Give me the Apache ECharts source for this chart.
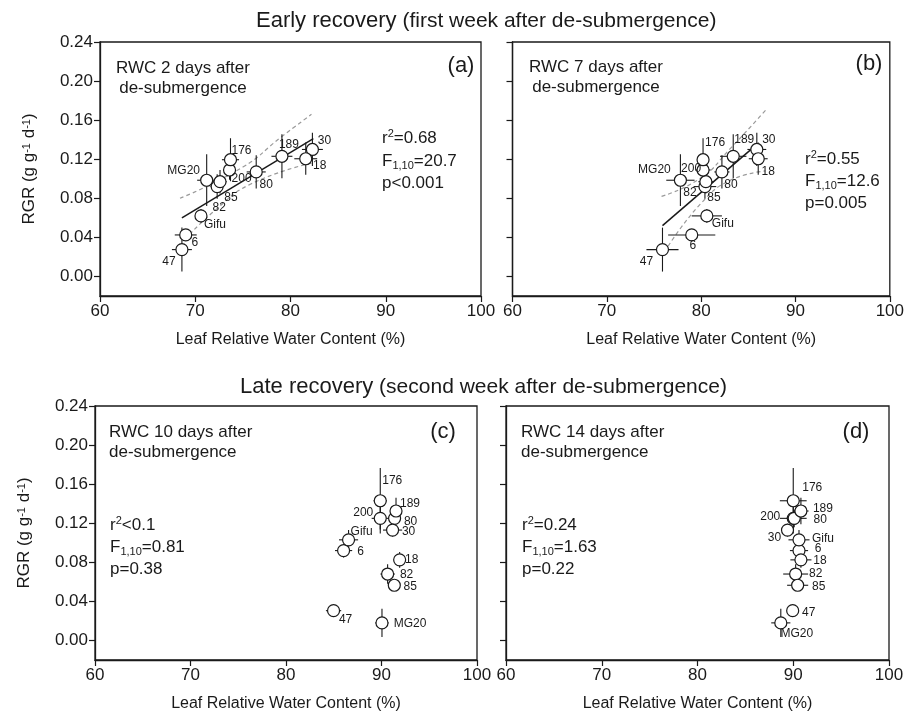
<!DOCTYPE html>
<html><head><meta charset="utf-8">
<script src="https://cdn.jsdelivr.net/npm/echarts@6/dist/echarts.min.js"></script>
<style>html,body{margin:0;padding:0;background:#fff}#c{width:907px;height:716px}</style>
</head><body><div id="c"></div>
<script>
// ---------------- DATA ----------------
const genotypes = ['47','6','Gifu','82','85','MG20','200','176','80','189','30','18'];
const yTicks = [0, 0.04, 0.08, 0.12, 0.16, 0.20, 0.24];
const xTicks = [60, 70, 80, 90, 100];

// RGR (same growth rates plotted against each RWC sampling day)
const rgrEarly    = [0.0275, 0.0425, 0.062, 0.092, 0.097, 0.0985, 0.109, 0.1195, 0.107, 0.123, 0.130, 0.1205];
const rgrEarlyErr = [0.0225, 0.006, 0.007, 0.0125, 0.012, 0.0265, 0.010, 0.022, 0.017, 0.0225, 0.017, 0.0165];
const rgrLate     = [0.0305, 0.092, 0.103, 0.068, 0.0565, 0.018, 0.125, 0.143, 0.125, 0.1325, 0.113, 0.0825];
const rgrLateErr  = [0.0055, 0.007, 0.010, 0.010, 0.0045, 0.0145, 0.0115, 0.0335, 0.009, 0.0135, 0.0065, 0.008];

// (a) RWC 2 days after de-submergence
const rwcA  = [68.6, 69.0, 70.6, 72.3, 72.6, 71.2, 73.6, 73.7, 76.4, 79.1, 82.3, 81.6];
const xErrA = [1.05, 1.15, 0.6, 0.7, 0.7, 1.0, 0.5, 0.9, 1.0, 1.1, 1.1, 1.2];
const fitA   = [[68.6, 0.060], [82.4, 0.141]];
const upperA = [[68.4, 0.080], [75.0, 0.112], [79.0, 0.1425], [82.2, 0.166]];
const lowerA = [[68.9, 0.038], [72.0, 0.067], [75.7, 0.094], [82.2, 0.116]];

// (b) RWC 7 days after de-submergence
const rwcB  = [75.9, 79.0, 80.6, 80.4, 80.5, 77.8, 80.2, 80.2, 82.2, 83.4, 85.9, 86.05];
const xErrB = [1.7, 2.5, 1.6, 1.2, 0.8, 1.5, 0.8, 0.5, 0.8, 1.4, 1.0, 1.0];
const fitB   = [[75.9, 0.052], [86.0, 0.136]];
const upperB = [[75.8, 0.082], [80.0, 0.101], [83.0, 0.130], [87.0, 0.172]];
const lowerB = [[76.5, 0.031], [80.0, 0.075], [83.0, 0.098], [86.8, 0.108]];

// (c) RWC 10 days after de-submergence
const rwcC  = [84.98, 86.03, 86.55, 90.64, 91.34, 90.05, 89.87, 89.87, 91.37, 91.52, 91.16, 91.9];
const xErrC = [0.8, 0.9, 1.0, 0.75, 0.5, 0.7, 0.9, 0.7, 0.5, 0.5, 1.0, 0.5];

// (d) RWC 14 days after de-submergence
const rwcD  = [89.94, 90.6, 90.6, 90.25, 90.46, 88.7, 90.0, 90.0, 90.1, 90.8, 89.4, 90.8];
const xErrD = [0.5, 0.95, 1.1, 1.3, 1.1, 1.0, 1.4, 1.4, 0.8, 0.8, 0.6, 1.1];

// ---------------- STYLE ----------------
const FONT = '"Liberation Sans", Arial, Helvetica, sans-serif';
const INK = '#1a1a1a';
const labelOff = [
  {'47':[-13,12],'6':[9,8],'Gifu':[14,9],'82':[2,21],'85':[11,16],'MG20':[-23,-10],'200':[12,9],'176':[11,-9],'80':[10,13],'189':[7,-12],'30':[12,-9],'18':[14,7]},
  {'47':[-16,12],'6':[1,11],'Gifu':[16,8],'82':[-15,6],'85':[8,16],'MG20':[-26,-11],'200':[-12,-1],'176':[12,-17],'80':[9,13],'189':[11,-17],'30':[12,-10],'18':[10,13]},
  {'47':[12,9],'6':[17,1],'Gifu':[13,-8],'82':[19,1],'85':[16,1],'MG20':[28,1],'200':[-17,-6],'176':[12,-20],'80':[16,3],'189':[14,-7],'30':[16,2],'18':[12,0]},
  {'47':[16,2],'6':[19,-2],'Gifu':[24,-1],'82':[20,0],'85':[21,1],'MG20':[16,11],'200':[-23,-2],'176':[19,-13],'80':[26,1],'189':[22,-2],'30':[-13,8],'18':[19,1]}
];
const grids = [
  {left:100, top:42, width:381, height:254},
  {left:512.5, top:42, width:381.5, height:254},
  {left:95, top:406, width:382, height:254},
  {left:506, top:406, width:383, height:254}
];

const panels = [
  {x:rwcA, y:rgrEarly, ex:xErrA, ey:rgrEarlyErr, fit:fitA, up:upperA, lo:lowerA},
  {x:rwcB, y:rgrEarly, ex:xErrB, ey:rgrEarlyErr, fit:fitB, up:upperB, lo:lowerB},
  {x:rwcC, y:rgrLate, ex:xErrC, ey:rgrLateErr},
  {x:rwcD, y:rgrLate, ex:xErrD, ey:rgrLateErr}
];

const xAxes = [], yAxes = [], series = [];
grids.forEach((g, i) => {
  xAxes.push({
    gridIndex:i, type:'value', min:60, max:100, interval:10,
    axisLine:{show:true, onZero:false, lineStyle:{color:INK, width:1.3}},
    axisTick:{show:true, length:6, lineStyle:{color:INK, width:1.2}},
    axisLabel:{fontSize:17, color:INK, fontFamily:FONT, margin:7, showMinLabel:true, showMaxLabel:true},
    splitLine:{show:false},
    name:'Leaf Relative Water Content (%)', nameLocation:'middle', nameGap:36,
    nameTextStyle:{fontSize:16, color:INK, fontFamily:FONT}
  });
  const left = (i % 2 === 0);
  yAxes.push({
    gridIndex:i, type:'value', min:-0.02, max:0.24,
    axisLine:{show:true, onZero:false, lineStyle:{color:INK, width:1.3}},
    axisTick:{show:true, length:6, customValues:yTicks, lineStyle:{color:INK, width:1.2}},
    axisLabel:{show:left, customValues:yTicks, fontSize:17, color:INK, fontFamily:FONT, margin:7,
      formatter:v => v.toFixed(2)},
    splitLine:{show:false},
    name: left ? 'RGR (g g{sup|-1} d{sup|-1})' : '', nameLocation:'middle', nameGap:62,
    nameTextStyle:{fontSize:17, color:INK, fontFamily:FONT,
      rich:{sup:{fontSize:11, color:INK, fontFamily:FONT, verticalAlign:'top'}}}
  });
  g.show = true; g.borderColor = INK; g.borderWidth = 1.3; g.backgroundColor = 'transparent';

  const p = panels[i];
  const errData = genotypes.map((n, k) => [p.x[k], p.y[k], p.ex[k], p.ey[k]]);
  series.push({
    type:'custom', xAxisIndex:i, yAxisIndex:i, data:errData, z:2, silent:true,
    encode:{x:0, y:1},
    renderItem:(params, api) => {
      const x = api.value(0), y = api.value(1), ex = api.value(2), ey = api.value(3);
      const l = api.coord([x-ex, y]), r = api.coord([x+ex, y]);
      const t = api.coord([x, y+ey]), b = api.coord([x, y-ey]);
      const st = {stroke:INK, lineWidth:1.1};
      return {type:'group', children:[
        {type:'line', shape:{x1:l[0], y1:l[1], x2:r[0], y2:r[1]}, style:st},
        {type:'line', shape:{x1:t[0], y1:t[1], x2:b[0], y2:b[1]}, style:st}
      ]};
    }
  });
  if (p.fit) {
    series.push({type:'line', xAxisIndex:i, yAxisIndex:i, data:p.up, smooth:true, symbol:'none', z:1,
      lineStyle:{color:'#9a9a9a', width:1.2, type:[4,3]}});
    series.push({type:'line', xAxisIndex:i, yAxisIndex:i, data:p.lo, smooth:true, symbol:'none', z:1,
      lineStyle:{color:'#9a9a9a', width:1.2, type:[4,3]}});
    series.push({type:'line', xAxisIndex:i, yAxisIndex:i, data:p.fit, symbol:'none', z:1,
      lineStyle:{color:INK, width:1.5}});
  }
  series.push({
    type:'scatter', xAxisIndex:i, yAxisIndex:i, z:3, symbol:'circle', symbolSize:12,
    itemStyle:{color:'#fff', borderColor:INK, borderWidth:1.2, opacity:1},
    label:{show:true, position:'inside', formatter:'{b}', fontSize:12, color:INK, fontFamily:FONT},
    data: genotypes.map((n, k) => ({name:n, value:[p.x[k], p.y[k]], label:{offset:labelOff[i][n]}}))
  });
});

function txt(x, y, text, size, align, extra) {
  return {type:'text', x:x, y:y, z:10,
    style:Object.assign({text:text, fontSize:size, fontFamily:FONT, fill:INK, align:align||'left', verticalAlign:'middle'}, extra||{})};
}
const richStats = {
  sup:{fontSize:11, fontFamily:FONT, fill:INK, verticalAlign:'top'},
  sub:{fontSize:11, fontFamily:FONT, fill:INK, verticalAlign:'bottom'}
};
function stat(x, y, text) {
  return {type:'text', x:x, y:y, z:10, style:{text:text, fontSize:17, fontFamily:FONT, fill:INK,
    align:'left', verticalAlign:'middle', lineHeight:20, rich:richStats}};
}
const titleRich = {a:{fontSize:22, fontFamily:FONT, fill:INK}, b:{fontSize:21, fontFamily:FONT, fill:INK}};

const graphics = [
  txt(256, 21, '{a|Early recovery} {b|(first week after de-submergence)}', 21, 'left', {rich:titleRich}),
  txt(240, 387, '{a|Late recovery} {b|(second week after de-submergence)}', 21, 'left', {rich:titleRich}),
  txt(183, 68, 'RWC 2 days after', 17, 'center'), txt(183, 88, 'de-submergence', 17, 'center'),
  txt(596, 67, 'RWC 7 days after', 17, 'center'), txt(596, 87, 'de-submergence', 17, 'center'),
  txt(109, 432, 'RWC 10 days after', 17, 'left'), txt(109, 452, 'de-submergence', 17, 'left'),
  txt(521, 432, 'RWC 14 days after', 17, 'left'), txt(521, 452, 'de-submergence', 17, 'left'),
  txt(461, 66, '(a)', 22, 'center'), txt(869, 64, '(b)', 22, 'center'),
  txt(443, 432, '(c)', 22, 'center'), txt(856, 432, '(d)', 22, 'center'),
  stat(382, 138, 'r{sup|2}=0.68'), stat(382, 161, 'F{sub|1,10}=20.7'), stat(382, 183, 'p<0.001'),
  stat(805, 159, 'r{sup|2}=0.55'), stat(805, 181, 'F{sub|1,10}=12.6'), stat(805, 203, 'p=0.005'),
  stat(110, 525, 'r{sup|2}<0.1'), stat(110, 547, 'F{sub|1,10}=0.81'), stat(110, 569, 'p=0.38'),
  stat(522, 525, 'r{sup|2}=0.24'), stat(522, 547, 'F{sub|1,10}=1.63'), stat(522, 569, 'p=0.22')
];

const chart = echarts.init(document.getElementById('c'), null, {renderer:'canvas'});
chart.setOption({
  animation:false, backgroundColor:'#fff',
  grid:grids, xAxis:xAxes, yAxis:yAxes, series:series, graphic:graphics
});
</script></body></html>
